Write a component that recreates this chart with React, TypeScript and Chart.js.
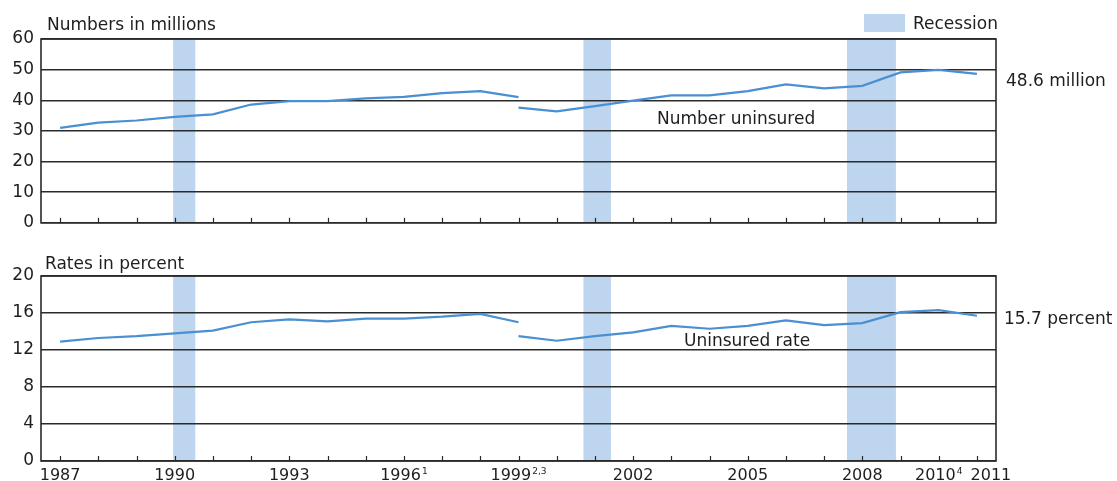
import React, { useEffect, useRef } from "react";
import { Chart, registerables } from "chart.js";

Chart.register(...registerables);

// ---------- data ----------
const yearsA = [1987, 1988, 1989, 1990, 1991, 1992, 1993, 1994, 1995, 1996, 1997, 1998, 1999];
const yearsB = [1999, 2000, 2001, 2002, 2003, 2004, 2005, 2006, 2007, 2008, 2009, 2010, 2011];
const numbersA = [31.0, 32.7, 33.4, 34.6, 35.4, 38.6, 39.7, 39.7, 40.6, 41.1, 42.3, 43.0, 41.0];
const numbersB = [37.6, 36.4, 38.1, 39.9, 41.6, 41.6, 43.0, 45.2, 43.9, 44.7, 49.1, 49.9, 48.6];
const ratesA = [12.9, 13.3, 13.5, 13.8, 14.1, 15.0, 15.3, 15.1, 15.4, 15.4, 15.6, 15.9, 15.0];
const ratesB = [13.5, 13.0, 13.5, 13.9, 14.6, 14.3, 14.6, 15.2, 14.7, 14.9, 16.1, 16.3, 15.7];
const recessionStarts = [1989.96, 2000.7, 2007.6];
const recessionEnds = [1990.54, 2001.42, 2008.88];
const tickYears = [
  1987, 1988, 1989, 1990, 1991, 1992, 1993, 1994, 1995, 1996, 1997, 1998, 1999,
  2000, 2001, 2002, 2003, 2004, 2005, 2006, 2007, 2008, 2009, 2010, 2011,
];
const labelYears = [1987, 1990, 1993, 1996, 1999, 2002, 2005, 2008, 2010, 2011];
const labelTexts = ["1987", "1990", "1993", "1996", "1999", "2002", "2005", "2008", "2010", "2011"];
const labelSups = ["", "", "", "1", "2,3", "", "", "", "4", ""];

// ---------- style ----------
const LINE = "#4a8fd2";
const BAND = "#bdd5ee";
const INK = "#1e1e1e";
const FONT = '"DejaVu Sans", sans-serif';

function makeDecor(showLabels: boolean) {
  return {
    id: "decor",
    beforeDraw(chart: any) {
      const { ctx, chartArea, scales } = chart;
      const x = scales.x;
      ctx.save();
      ctx.fillStyle = BAND;
      for (let i = 0; i < recessionStarts.length; i++) {
        const xa = x.getPixelForValue(recessionStarts[i]);
        const xb = x.getPixelForValue(recessionEnds[i]);
        ctx.fillRect(xa, chartArea.top, xb - xa, chartArea.bottom - chartArea.top);
      }
      ctx.restore();
    },
    afterDraw(chart: any) {
      const { ctx, chartArea, scales } = chart;
      const { left, right, top, bottom } = chartArea;
      const x = scales.x;
      ctx.save();
      ctx.strokeStyle = "#2a2a2a";
      ctx.lineWidth = 1.6;
      ctx.strokeRect(left, top, right - left, bottom - top);
      ctx.lineWidth = 1.2;
      ctx.beginPath();
      for (const yr of tickYears) {
        const px = Math.round(x.getPixelForValue(yr)) + 0.5;
        ctx.moveTo(px, bottom);
        ctx.lineTo(px, bottom - 5);
      }
      ctx.stroke();
      if (showLabels) {
        ctx.fillStyle = INK;
        ctx.textBaseline = "alphabetic";
        ctx.textAlign = "left";
        for (let i = 0; i < labelYears.length; i++) {
          const px = x.getPixelForValue(labelYears[i]);
          ctx.font = `16px ${FONT}`;
          const w1 = ctx.measureText(labelTexts[i]).width;
          ctx.font = `9px ${FONT}`;
          const w2 = labelSups[i] ? ctx.measureText(labelSups[i]).width + 1 : 0;
          const shift = labelYears[i] === 2011 ? 14 : 0;
          const sx = px - (w1 + w2) / 2 + shift;
          const base = bottom + 19;
          ctx.font = `16px ${FONT}`;
          ctx.fillText(labelTexts[i], sx, base);
          if (labelSups[i]) {
            ctx.font = `9px ${FONT}`;
            ctx.fillText(labelSups[i], sx + w1 + 1, base - 6);
          }
        }
      }
      ctx.restore();
    },
  };
}

function buildConfig(
  aVals: number[],
  bVals: number[],
  yMax: number,
  yStep: number,
  padding: any,
  showLabels: boolean
): any {
  return {
    type: "line",
    data: {
      datasets: [
        {
          data: yearsA.map((x, i) => ({ x, y: aVals[i] })),
          borderColor: LINE,
          borderWidth: 2.2,
          pointRadius: 0,
          tension: 0,
          fill: false,
        },
        {
          data: yearsB.map((x, i) => ({ x, y: bVals[i] })),
          borderColor: LINE,
          borderWidth: 2.2,
          pointRadius: 0,
          tension: 0,
          fill: false,
        },
      ],
    },
    options: {
      responsive: false,
      animation: false,
      events: [],
      layout: { padding },
      plugins: { legend: { display: false }, tooltip: { enabled: false } },
      scales: {
        x: { type: "linear", min: 1986.5, max: 2011.5, display: false },
        y: {
          min: 0,
          max: yMax,
          afterFit: (s: any) => {
            s.width = 41;
          },
          border: { display: false },
          grid: { color: "#2a2a2a", lineWidth: 1.4, drawTicks: false },
          ticks: {
            stepSize: yStep,
            padding: 7,
            color: INK,
            font: { family: FONT, size: 17 },
          },
        },
      },
    },
    plugins: [makeDecor(showLabels)],
  };
}

const textStyle = (left: number, top: number): React.CSSProperties => ({
  position: "absolute",
  left,
  top,
  fontFamily: FONT,
  fontSize: 17,
  lineHeight: "17px",
  color: INK,
  whiteSpace: "nowrap",
});

export default function App() {
  const topRef = useRef<HTMLCanvasElement>(null);
  const botRef = useRef<HTMLCanvasElement>(null);

  useEffect(() => {
    const c1 = new Chart(
      topRef.current as HTMLCanvasElement,
      buildConfig(numbersA, numbersB, 60, 10, { left: 0, right: 121, top: 39, bottom: 16 }, false)
    );
    const c2 = new Chart(
      botRef.current as HTMLCanvasElement,
      buildConfig(ratesA, ratesB, 20, 4, { left: 0, right: 121, top: 36, bottom: 20 }, true)
    );
    return () => {
      c1.destroy();
      c2.destroy();
    };
  }, []);

  return (
    <div
      style={{
        position: "fixed",
        left: 0,
        top: 0,
        width: 1117,
        height: 481,
        background: "#fff",
        overflow: "hidden",
      }}
    >
      <canvas
        ref={topRef}
        width={1117}
        height={240}
        style={{ position: "absolute", left: 0, top: 0, width: 1117, height: 240 }}
      />
      <canvas
        ref={botRef}
        width={1117}
        height={241}
        style={{ position: "absolute", left: 0, top: 240, width: 1117, height: 241 }}
      />
      <div style={textStyle(47, 15.6)}>Numbers in millions</div>
      <div style={textStyle(45, 255)}>Rates in percent</div>
      <div
        style={{ position: "absolute", left: 864, top: 14, width: 41, height: 18, background: BAND }}
      />
      <div style={textStyle(913, 15)}>Recession</div>
      <div style={textStyle(1006, 71.6)}>48.6 million</div>
      <div style={textStyle(1004, 309.6)}>15.7 percent</div>
      <div style={textStyle(657, 109.6)}>Number uninsured</div>
      <div style={textStyle(684, 331.6)}>Uninsured rate</div>
    </div>
  );
}
